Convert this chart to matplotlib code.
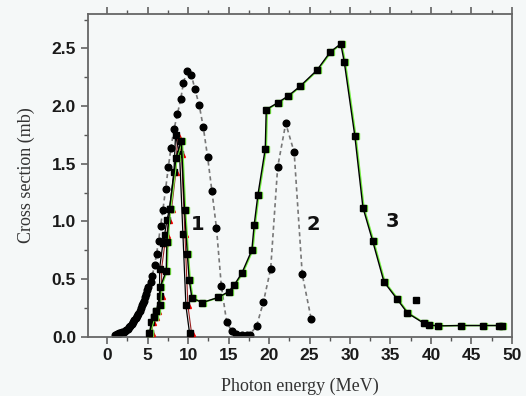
import matplotlib
matplotlib.use("Agg")
import matplotlib.pyplot as plt
from matplotlib.ticker import MultipleLocator
from matplotlib.transforms import offset_copy

# curve 1 (black squares over red triangles)
c1_x = [5.23, 5.43, 5.72, 6.05, 6.47, 6.47, 6.88, 7.08, 7.37, 7.70, 8.24, 8.44, 8.94, 9.35, 9.72, 10.17]
c1_y = [0.03, 0.13, 0.17, 0.22, 0.35, 0.59, 0.81, 0.88, 1.01, 1.11, 1.43, 1.75, 1.58, 0.89, 0.27, 0.03]

# curve 2 (circles, dashed)
c2_x = [0.91, 1.15, 1.29, 1.45, 1.62, 1.80, 2.03, 2.20, 2.36, 2.52, 2.69, 2.86, 3.03, 3.20,
        3.36, 3.52, 3.69, 3.85, 4.02, 4.15, 4.27, 4.40, 4.52, 4.65, 4.77, 4.90, 5.06, 5.35,
        5.56, 5.85, 6.10, 6.34, 6.59, 6.88, 7.21, 7.55, 7.88, 8.25, 8.67, 9.08, 9.41, 9.83,
        10.40, 10.82, 11.36, 11.86, 12.40, 12.94, 13.50, 14.10, 14.76, 15.38, 15.96, 16.60,
        17.30, 17.60, 18.45, 19.30, 20.20, 21.06, 22.06, 23.10, 24.10, 25.20]
c2_y = [0.015, 0.019, 0.023, 0.027, 0.030, 0.036, 0.044, 0.050, 0.058, 0.068, 0.080, 0.094,
        0.110, 0.125, 0.140, 0.160, 0.180, 0.200, 0.220, 0.245, 0.270, 0.290, 0.310, 0.340,
        0.370, 0.400, 0.430, 0.470, 0.530, 0.620, 0.720, 0.830, 0.960, 1.100, 1.280, 1.470,
        1.640, 1.800, 1.930, 2.060, 2.200, 2.300, 2.270, 2.150, 2.010, 1.820, 1.560, 1.260,
        0.940, 0.440, 0.125, 0.050, 0.023, 0.015, 0.015, 0.017, 0.090, 0.300, 0.590, 1.470,
        1.850, 1.600, 0.540, 0.155]

# curve 3 (black squares, green edge)
c3_x = [5.22, 5.72, 6.05, 6.47, 6.55, 7.29, 7.37, 7.70, 8.50, 9.15, 9.55, 9.89, 10.13, 10.46,
        11.73, 13.72, 15.00, 15.71, 16.63, 17.87, 18.16, 18.62, 19.53, 19.65, 21.10, 22.40,
        23.80, 25.90, 27.57, 28.86, 29.30, 30.60, 31.60, 32.80, 34.20, 35.80, 37.10, 39.10,
        39.80, 40.90, 43.70, 46.40, 48.40, 48.80]
c3_y = [0.03, 0.17, 0.22, 0.27, 0.43, 0.57, 0.82, 1.11, 1.55, 1.70, 1.10, 0.72, 0.49, 0.335,
        0.295, 0.34, 0.39, 0.45, 0.55, 0.75, 0.97, 1.23, 1.63, 1.97, 2.03, 2.09, 2.17, 2.31,
        2.47, 2.54, 2.38, 1.74, 1.12, 0.83, 0.475, 0.327, 0.205, 0.117, 0.10, 0.093, 0.096,
        0.096, 0.096, 0.09]

# stray point
extra_x = [38.1]
extra_y = [0.315]

labels = ["1", "2", "3"]
label_x = [11.15, 25.5, 35.3]
label_y = [0.97, 0.97, 1.0]

bg = "#f5f8f8"
fig = plt.figure(figsize=(5.26, 3.96), dpi=100, facecolor=bg)
ax = fig.add_axes([0.167, 0.15, 0.806, 0.815], facecolor=bg)

# curve 2
ax.plot(c2_x, c2_y, color="#777777", ls=(0, (2.5, 2)), lw=1.2, marker="o",
        ms=4.8, mfc="black", mec="black", zorder=2)

# curve 1: red triangles shifted slightly right, squares on top
shift = offset_copy(ax.transData, fig=fig, x=2, y=0, units="dots")
ax.plot(c1_x, c1_y, color="#992222", lw=0.8, marker="^", ms=4, mfc="red", mec="red",
        transform=shift, zorder=3)
ax.plot(c1_x, c1_y, color="black", lw=0.9, marker="s", ms=4.5, mfc="black", mec="black",
        zorder=4)

# curve 3: faint green halo on the right of black line and squares
gshift = offset_copy(ax.transData, fig=fig, x=1.0, y=0, units="dots")
ax.plot(c3_x, c3_y, color="#77ee44", lw=1.2, marker="s", ms=4.8, mfc="#77ee44",
        mec="#77ee44", transform=gshift, zorder=4)
ax.plot(c3_x, c3_y, color="black", lw=1.0, marker="s", ms=4.6, mfc="black",
        mec="black", zorder=5)
ax.plot(extra_x, extra_y, ls="none", marker="s", ms=4.6, color="black", zorder=5)

for t, x, y in zip(labels, label_x, label_y):
    ax.text(x, y, t, fontsize=14, fontweight="bold", family="DejaVu Sans",
            ha="center", va="center", color="#111111")

ax.set_xlim(-2.4, 50)
ax.set_ylim(0, 2.8)
ax.xaxis.set_major_locator(MultipleLocator(5))
ax.xaxis.set_minor_locator(MultipleLocator(2.5))
ax.yaxis.set_major_locator(MultipleLocator(0.5))
ax.yaxis.set_minor_locator(MultipleLocator(0.25))
ax.set_yticks([0, 0.5, 1.0, 1.5, 2.0, 2.5])

for s in ax.spines.values():
    s.set_color("#666666")
    s.set_linewidth(1.3)

ax.tick_params(axis="both", which="both", direction="out", color="#555555",
               top=True, right=False)
ax.tick_params(which="major", length=5, width=1.1)
ax.tick_params(which="minor", length=3, width=1.0)
ax.tick_params(axis="x", which="both", labeltop=False)
for lab in ax.get_xticklabels() + ax.get_yticklabels():
    lab.set_family("Liberation Sans")
    lab.set_fontweight("bold")
    lab.set_fontsize(12.5)
    lab.set_color("#1a1a1a")

ax.set_xlabel("Photon energy (MeV)", family="Liberation Serif", fontsize=13,
              color="#333333", labelpad=10)
ax.set_ylabel("Cross section (mb)", family="Liberation Serif", fontsize=13,
              color="#333333", labelpad=12)

fig.savefig("out.png", dpi=100, facecolor=bg)
